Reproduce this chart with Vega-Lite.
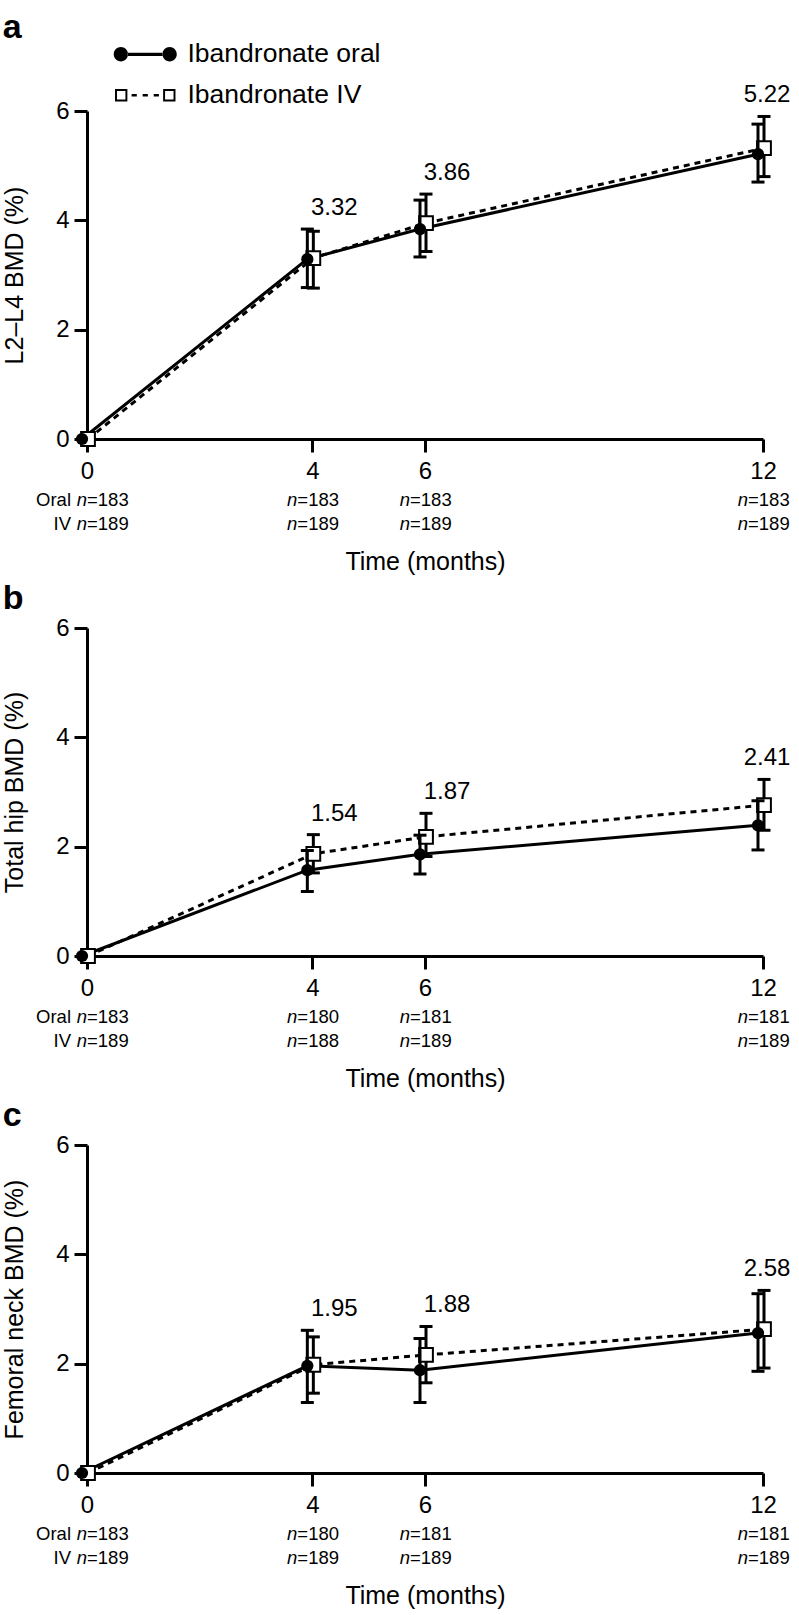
{
  "$schema": "https://vega.github.io/schema/vega-lite/v6.json",
  "background": "white",
  "padding": {"left": 2, "top": 11, "right": 5, "bottom": 5},
  "spacing": 189,
  "bounds": "flush",
  "datasets": {
    "pts": [
      {"panel": "a", "group": "Ibandronate oral", "month": 0, "mean": 0, "lo": 0, "hi": 0, "n": 183},
      {"panel": "a", "group": "Ibandronate oral", "month": 4, "mean": 3.29, "lo": 2.77, "hi": 3.84, "label": 3.32, "n": 183},
      {"panel": "a", "group": "Ibandronate oral", "month": 6, "mean": 3.84, "lo": 3.33, "hi": 4.37, "label": 3.86, "n": 183},
      {"panel": "a", "group": "Ibandronate oral", "month": 12, "mean": 5.21, "lo": 4.70, "hi": 5.76, "label": 5.22, "n": 183},
      {"panel": "a", "group": "Ibandronate IV", "month": 0, "mean": 0, "lo": 0, "hi": 0, "n": 189},
      {"panel": "a", "group": "Ibandronate IV", "month": 4, "mean": 3.31, "lo": 2.76, "hi": 3.80, "n": 189},
      {"panel": "a", "group": "Ibandronate IV", "month": 6, "mean": 3.95, "lo": 3.43, "hi": 4.48, "n": 189},
      {"panel": "a", "group": "Ibandronate IV", "month": 12, "mean": 5.32, "lo": 4.80, "hi": 5.90, "n": 189},
      {"panel": "b", "group": "Ibandronate oral", "month": 0, "mean": 0, "lo": 0, "hi": 0, "n": 183},
      {"panel": "b", "group": "Ibandronate oral", "month": 4, "mean": 1.57, "lo": 1.18, "hi": 1.93, "label": 1.54, "n": 180},
      {"panel": "b", "group": "Ibandronate oral", "month": 6, "mean": 1.86, "lo": 1.50, "hi": 2.21, "label": 1.87, "n": 181},
      {"panel": "b", "group": "Ibandronate oral", "month": 12, "mean": 2.39, "lo": 1.94, "hi": 2.84, "label": 2.41, "n": 181},
      {"panel": "b", "group": "Ibandronate IV", "month": 0, "mean": 0, "lo": 0, "hi": 0, "n": 189},
      {"panel": "b", "group": "Ibandronate IV", "month": 4, "mean": 1.87, "lo": 1.52, "hi": 2.22, "n": 188},
      {"panel": "b", "group": "Ibandronate IV", "month": 6, "mean": 2.18, "lo": 1.82, "hi": 2.61, "n": 189},
      {"panel": "b", "group": "Ibandronate IV", "month": 12, "mean": 2.76, "lo": 2.30, "hi": 3.23, "n": 189},
      {"panel": "c", "group": "Ibandronate oral", "month": 0, "mean": 0, "lo": 0, "hi": 0, "n": 183},
      {"panel": "c", "group": "Ibandronate oral", "month": 4, "mean": 1.96, "lo": 1.29, "hi": 2.61, "label": 1.95, "n": 180},
      {"panel": "c", "group": "Ibandronate oral", "month": 6, "mean": 1.88, "lo": 1.29, "hi": 2.46, "label": 1.88, "n": 181},
      {"panel": "c", "group": "Ibandronate oral", "month": 12, "mean": 2.56, "lo": 1.86, "hi": 3.28, "label": 2.58, "n": 181},
      {"panel": "c", "group": "Ibandronate IV", "month": 0, "mean": 0, "lo": 0, "hi": 0, "n": 189},
      {"panel": "c", "group": "Ibandronate IV", "month": 4, "mean": 1.98, "lo": 1.46, "hi": 2.49, "n": 189},
      {"panel": "c", "group": "Ibandronate IV", "month": 6, "mean": 2.16, "lo": 1.65, "hi": 2.68, "n": 189},
      {"panel": "c", "group": "Ibandronate IV", "month": 12, "mean": 2.63, "lo": 1.92, "hi": 3.34, "n": 189}
    ]
  },
  "vconcat": [
    {
      "width": 676, "height": 328,
      "title": {"text": "a", "anchor": "start", "frame": "bounds", "fontSize": 34, "fontWeight": "bold", "font": "Liberation Sans", "color": "black", "offset": 38},
      "encoding": {
        "x": {"field": "month", "type": "quantitative", "scale": {"domain": [0, 12], "nice": false, "zero": false}, "axis": {"values": [0, 4, 6, 12], "title": "Time (months)"}},
        "y": {"field": "mean", "type": "quantitative", "scale": {"domain": [0, 6], "nice": false}, "axis": {"values": [0, 2, 4, 6], "title": "L2–L4 BMD (%)"}}
      },
      "layer": [
        {"data": {"name": "pts"}, "transform": [{"filter": "false"}],
         "mark": {"type": "point", "filled": true, "opacity": 1, "color": "black"},
         "encoding": {
           "shape": {"field": "group", "type": "nominal", "scale": {"domain": ["Ibandronate oral", "Ibandronate IV"], "range": ["M-4.85,0A1.1,1.1,0,1,0,-2.65,0A1.1,1.1,0,1,0,-4.85,0ZM2.65,0A1.1,1.1,0,1,0,4.85,0A1.1,1.1,0,1,0,2.65,0ZM-2.7,-0.25H2.7V0.25H-2.7Z", "M-4.65,-0.95H-2.75V0.95H-4.65ZM-4.35,-0.65V0.65H-3.05V-0.65ZM2.75,-0.95H4.65V0.95H2.75ZM3.05,-0.65V0.65H4.35V-0.65ZM-2.1,-0.2H-1.3V0.2H-2.1ZM-0.4,-0.2H0.4V0.2H-0.4ZM1.3,-0.2H2.1V0.2H1.3Z"]}, "legend": {"title": null}}
         }},
        {"data": {"name": "pts"}, "transform": [{"filter": "datum.panel=='a' && datum.group=='Ibandronate IV'"}],
         "mark": {"type": "line", "color": "black", "strokeWidth": 3, "strokeDash": [6, 5], "xOffset": 1}},
        {"data": {"name": "pts"}, "transform": [{"filter": "datum.panel=='a' && datum.group=='Ibandronate oral'"}],
         "mark": {"type": "line", "color": "black", "strokeWidth": 3, "xOffset": -5}},
        {"data": {"name": "pts"}, "transform": [{"filter": "datum.panel=='a' && datum.group=='Ibandronate IV' && datum.month>0"}],
         "mark": {"type": "rule", "color": "black", "strokeWidth": 3, "xOffset": 1},
         "encoding": {"y": {"field": "lo", "type": "quantitative"}, "y2": {"field": "hi"}}},
        {"data": {"name": "pts"}, "transform": [{"filter": "datum.panel=='a' && datum.group=='Ibandronate IV' && datum.month>0"}],
         "mark": {"type": "tick", "orient": "horizontal", "color": "black", "size": 13, "thickness": 3, "opacity": 1, "xOffset": 1},
         "encoding": {"y": {"field": "lo", "type": "quantitative"}}},
        {"data": {"name": "pts"}, "transform": [{"filter": "datum.panel=='a' && datum.group=='Ibandronate IV' && datum.month>0"}],
         "mark": {"type": "tick", "orient": "horizontal", "color": "black", "size": 13, "thickness": 3, "opacity": 1, "xOffset": 1},
         "encoding": {"y": {"field": "hi", "type": "quantitative"}}},
        {"data": {"name": "pts"}, "transform": [{"filter": "datum.panel=='a' && datum.group=='Ibandronate IV'"}],
         "mark": {"type": "point", "shape": "square", "size": 190, "fill": "white", "stroke": "black", "strokeWidth": 2, "opacity": 1, "xOffset": 1}},
        {"data": {"name": "pts"}, "transform": [{"filter": "datum.panel=='a' && datum.group=='Ibandronate oral' && datum.month>0"}],
         "mark": {"type": "rule", "color": "black", "strokeWidth": 3, "xOffset": -5},
         "encoding": {"y": {"field": "lo", "type": "quantitative"}, "y2": {"field": "hi"}}},
        {"data": {"name": "pts"}, "transform": [{"filter": "datum.panel=='a' && datum.group=='Ibandronate oral' && datum.month>0"}],
         "mark": {"type": "tick", "orient": "horizontal", "color": "black", "size": 13, "thickness": 3, "opacity": 1, "xOffset": -5},
         "encoding": {"y": {"field": "lo", "type": "quantitative"}}},
        {"data": {"name": "pts"}, "transform": [{"filter": "datum.panel=='a' && datum.group=='Ibandronate oral' && datum.month>0"}],
         "mark": {"type": "tick", "orient": "horizontal", "color": "black", "size": 13, "thickness": 3, "opacity": 1, "xOffset": -5},
         "encoding": {"y": {"field": "hi", "type": "quantitative"}}},
        {"data": {"name": "pts"}, "transform": [{"filter": "datum.panel=='a' && datum.group=='Ibandronate oral'"}],
         "mark": {"type": "point", "shape": "circle", "size": 150, "filled": true, "color": "black", "opacity": 1, "xOffset": -5}},
        {"data": {"name": "pts"}, "transform": [{"filter": "datum.panel=='a' && datum.month>0"}],
         "mark": {"type": "text", "fontSize": 24, "font": "Liberation Sans", "color": "black", "baseline": "middle", "dy": -21, "dx": {"expr": "datum.month == 12 ? 4 : 22"}},
         "encoding": {"y": {"aggregate": "max", "field": "hi", "type": "quantitative"}, "text": {"aggregate": "max", "field": "label", "type": "quantitative", "format": ".2f"}}},
        {"data": {"name": "pts"}, "transform": [{"filter": "datum.panel=='a' && datum.month==0 && datum.group=='Ibandronate oral'"}],
         "mark": {"type": "text", "fontSize": 18.5, "font": "Liberation Sans", "color": "black", "align": "right", "baseline": "middle", "dx": -16, "dy": 61, "text": "Oral"},
         "encoding": {"y": {"datum": 0, "type": "quantitative"}}},
        {"data": {"name": "pts"}, "transform": [{"filter": "datum.panel=='a' && datum.month==0 && datum.group=='Ibandronate IV'"}],
         "mark": {"type": "text", "fontSize": 18.5, "font": "Liberation Sans", "color": "black", "align": "right", "baseline": "middle", "dx": -16, "dy": 85, "text": "IV"},
         "encoding": {"y": {"datum": 0, "type": "quantitative"}}},
        {"data": {"name": "pts"}, "transform": [{"filter": "datum.panel=='a' && datum.group=='Ibandronate oral'"}],
         "mark": {"type": "text", "fontSize": 18.5, "font": "Liberation Sans", "fontStyle": "italic", "color": "black", "align": "right", "baseline": "middle", "text": "n", "dx": {"expr": "datum.month==0 ? 0 : -15"}, "dy": 61},
         "encoding": {"y": {"datum": 0, "type": "quantitative"}}},
        {"data": {"name": "pts"}, "transform": [{"filter": "datum.panel=='a' && datum.group=='Ibandronate IV'"}],
         "mark": {"type": "text", "fontSize": 18.5, "font": "Liberation Sans", "fontStyle": "italic", "color": "black", "align": "right", "baseline": "middle", "text": "n", "dx": {"expr": "datum.month==0 ? 0 : -15"}, "dy": 85},
         "encoding": {"y": {"datum": 0, "type": "quantitative"}}},
        {"data": {"name": "pts"}, "transform": [{"filter": "datum.panel=='a' && datum.group=='Ibandronate oral'"}],
         "mark": {"type": "text", "fontSize": 18.5, "font": "Liberation Sans", "color": "black", "align": "left", "baseline": "middle", "dx": {"expr": "datum.month==0 ? 0 : -15"}, "dy": 61},
         "encoding": {"y": {"datum": 0, "type": "quantitative"}, "text": {"field": "n", "type": "quantitative", "format": "=>4d"}}},
        {"data": {"name": "pts"}, "transform": [{"filter": "datum.panel=='a' && datum.group=='Ibandronate IV'"}],
         "mark": {"type": "text", "fontSize": 18.5, "font": "Liberation Sans", "color": "black", "align": "left", "baseline": "middle", "dx": {"expr": "datum.month==0 ? 0 : -15"}, "dy": 85},
         "encoding": {"y": {"datum": 0, "type": "quantitative"}, "text": {"field": "n", "type": "quantitative", "format": "=>4d"}}}
      ]
    },
    {
      "width": 676, "height": 328,
      "title": {"text": "b", "anchor": "start", "frame": "bounds", "fontSize": 34, "fontWeight": "bold", "font": "Liberation Sans", "color": "black", "offset": 0},
      "encoding": {
        "x": {"field": "month", "type": "quantitative", "scale": {"domain": [0, 12], "nice": false, "zero": false}, "axis": {"values": [0, 4, 6, 12], "title": "Time (months)"}},
        "y": {"field": "mean", "type": "quantitative", "scale": {"domain": [0, 6], "nice": false}, "axis": {"values": [0, 2, 4, 6], "title": "Total hip BMD (%)"}}
      },
      "layer": [
        {"data": {"name": "pts"}, "transform": [{"filter": "datum.panel=='b' && datum.group=='Ibandronate IV'"}],
         "mark": {"type": "line", "color": "black", "strokeWidth": 3, "strokeDash": [6, 5], "xOffset": 1}},
        {"data": {"name": "pts"}, "transform": [{"filter": "datum.panel=='b' && datum.group=='Ibandronate oral'"}],
         "mark": {"type": "line", "color": "black", "strokeWidth": 3, "xOffset": -5}},
        {"data": {"name": "pts"}, "transform": [{"filter": "datum.panel=='b' && datum.group=='Ibandronate IV' && datum.month>0"}],
         "mark": {"type": "rule", "color": "black", "strokeWidth": 3, "xOffset": 1},
         "encoding": {"y": {"field": "lo", "type": "quantitative"}, "y2": {"field": "hi"}}},
        {"data": {"name": "pts"}, "transform": [{"filter": "datum.panel=='b' && datum.group=='Ibandronate IV' && datum.month>0"}],
         "mark": {"type": "tick", "orient": "horizontal", "color": "black", "size": 13, "thickness": 3, "opacity": 1, "xOffset": 1},
         "encoding": {"y": {"field": "lo", "type": "quantitative"}}},
        {"data": {"name": "pts"}, "transform": [{"filter": "datum.panel=='b' && datum.group=='Ibandronate IV' && datum.month>0"}],
         "mark": {"type": "tick", "orient": "horizontal", "color": "black", "size": 13, "thickness": 3, "opacity": 1, "xOffset": 1},
         "encoding": {"y": {"field": "hi", "type": "quantitative"}}},
        {"data": {"name": "pts"}, "transform": [{"filter": "datum.panel=='b' && datum.group=='Ibandronate IV'"}],
         "mark": {"type": "point", "shape": "square", "size": 190, "fill": "white", "stroke": "black", "strokeWidth": 2, "opacity": 1, "xOffset": 1}},
        {"data": {"name": "pts"}, "transform": [{"filter": "datum.panel=='b' && datum.group=='Ibandronate oral' && datum.month>0"}],
         "mark": {"type": "rule", "color": "black", "strokeWidth": 3, "xOffset": -5},
         "encoding": {"y": {"field": "lo", "type": "quantitative"}, "y2": {"field": "hi"}}},
        {"data": {"name": "pts"}, "transform": [{"filter": "datum.panel=='b' && datum.group=='Ibandronate oral' && datum.month>0"}],
         "mark": {"type": "tick", "orient": "horizontal", "color": "black", "size": 13, "thickness": 3, "opacity": 1, "xOffset": -5},
         "encoding": {"y": {"field": "lo", "type": "quantitative"}}},
        {"data": {"name": "pts"}, "transform": [{"filter": "datum.panel=='b' && datum.group=='Ibandronate oral' && datum.month>0"}],
         "mark": {"type": "tick", "orient": "horizontal", "color": "black", "size": 13, "thickness": 3, "opacity": 1, "xOffset": -5},
         "encoding": {"y": {"field": "hi", "type": "quantitative"}}},
        {"data": {"name": "pts"}, "transform": [{"filter": "datum.panel=='b' && datum.group=='Ibandronate oral'"}],
         "mark": {"type": "point", "shape": "circle", "size": 150, "filled": true, "color": "black", "opacity": 1, "xOffset": -5}},
        {"data": {"name": "pts"}, "transform": [{"filter": "datum.panel=='b' && datum.month>0"}],
         "mark": {"type": "text", "fontSize": 24, "font": "Liberation Sans", "color": "black", "baseline": "middle", "dy": -21, "dx": {"expr": "datum.month == 12 ? 4 : 22"}},
         "encoding": {"y": {"aggregate": "max", "field": "hi", "type": "quantitative"}, "text": {"aggregate": "max", "field": "label", "type": "quantitative", "format": ".2f"}}},
        {"data": {"name": "pts"}, "transform": [{"filter": "datum.panel=='b' && datum.month==0 && datum.group=='Ibandronate oral'"}],
         "mark": {"type": "text", "fontSize": 18.5, "font": "Liberation Sans", "color": "black", "align": "right", "baseline": "middle", "dx": -16, "dy": 61, "text": "Oral"},
         "encoding": {"y": {"datum": 0, "type": "quantitative"}}},
        {"data": {"name": "pts"}, "transform": [{"filter": "datum.panel=='b' && datum.month==0 && datum.group=='Ibandronate IV'"}],
         "mark": {"type": "text", "fontSize": 18.5, "font": "Liberation Sans", "color": "black", "align": "right", "baseline": "middle", "dx": -16, "dy": 85, "text": "IV"},
         "encoding": {"y": {"datum": 0, "type": "quantitative"}}},
        {"data": {"name": "pts"}, "transform": [{"filter": "datum.panel=='b' && datum.group=='Ibandronate oral'"}],
         "mark": {"type": "text", "fontSize": 18.5, "font": "Liberation Sans", "fontStyle": "italic", "color": "black", "align": "right", "baseline": "middle", "text": "n", "dx": {"expr": "datum.month==0 ? 0 : -15"}, "dy": 61},
         "encoding": {"y": {"datum": 0, "type": "quantitative"}}},
        {"data": {"name": "pts"}, "transform": [{"filter": "datum.panel=='b' && datum.group=='Ibandronate IV'"}],
         "mark": {"type": "text", "fontSize": 18.5, "font": "Liberation Sans", "fontStyle": "italic", "color": "black", "align": "right", "baseline": "middle", "text": "n", "dx": {"expr": "datum.month==0 ? 0 : -15"}, "dy": 85},
         "encoding": {"y": {"datum": 0, "type": "quantitative"}}},
        {"data": {"name": "pts"}, "transform": [{"filter": "datum.panel=='b' && datum.group=='Ibandronate oral'"}],
         "mark": {"type": "text", "fontSize": 18.5, "font": "Liberation Sans", "color": "black", "align": "left", "baseline": "middle", "dx": {"expr": "datum.month==0 ? 0 : -15"}, "dy": 61},
         "encoding": {"y": {"datum": 0, "type": "quantitative"}, "text": {"field": "n", "type": "quantitative", "format": "=>4d"}}},
        {"data": {"name": "pts"}, "transform": [{"filter": "datum.panel=='b' && datum.group=='Ibandronate IV'"}],
         "mark": {"type": "text", "fontSize": 18.5, "font": "Liberation Sans", "color": "black", "align": "left", "baseline": "middle", "dx": {"expr": "datum.month==0 ? 0 : -15"}, "dy": 85},
         "encoding": {"y": {"datum": 0, "type": "quantitative"}, "text": {"field": "n", "type": "quantitative", "format": "=>4d"}}}
      ]
    },
    {
      "width": 676, "height": 328,
      "title": {"text": "c", "anchor": "start", "frame": "bounds", "fontSize": 34, "fontWeight": "bold", "font": "Liberation Sans", "color": "black", "offset": 0},
      "encoding": {
        "x": {"field": "month", "type": "quantitative", "scale": {"domain": [0, 12], "nice": false, "zero": false}, "axis": {"values": [0, 4, 6, 12], "title": "Time (months)"}},
        "y": {"field": "mean", "type": "quantitative", "scale": {"domain": [0, 6], "nice": false}, "axis": {"values": [0, 2, 4, 6], "title": "Femoral neck BMD (%)"}}
      },
      "layer": [
        {"data": {"name": "pts"}, "transform": [{"filter": "datum.panel=='c' && datum.group=='Ibandronate IV'"}],
         "mark": {"type": "line", "color": "black", "strokeWidth": 3, "strokeDash": [6, 5], "xOffset": 1}},
        {"data": {"name": "pts"}, "transform": [{"filter": "datum.panel=='c' && datum.group=='Ibandronate oral'"}],
         "mark": {"type": "line", "color": "black", "strokeWidth": 3, "xOffset": -5}},
        {"data": {"name": "pts"}, "transform": [{"filter": "datum.panel=='c' && datum.group=='Ibandronate IV' && datum.month>0"}],
         "mark": {"type": "rule", "color": "black", "strokeWidth": 3, "xOffset": 1},
         "encoding": {"y": {"field": "lo", "type": "quantitative"}, "y2": {"field": "hi"}}},
        {"data": {"name": "pts"}, "transform": [{"filter": "datum.panel=='c' && datum.group=='Ibandronate IV' && datum.month>0"}],
         "mark": {"type": "tick", "orient": "horizontal", "color": "black", "size": 13, "thickness": 3, "opacity": 1, "xOffset": 1},
         "encoding": {"y": {"field": "lo", "type": "quantitative"}}},
        {"data": {"name": "pts"}, "transform": [{"filter": "datum.panel=='c' && datum.group=='Ibandronate IV' && datum.month>0"}],
         "mark": {"type": "tick", "orient": "horizontal", "color": "black", "size": 13, "thickness": 3, "opacity": 1, "xOffset": 1},
         "encoding": {"y": {"field": "hi", "type": "quantitative"}}},
        {"data": {"name": "pts"}, "transform": [{"filter": "datum.panel=='c' && datum.group=='Ibandronate IV'"}],
         "mark": {"type": "point", "shape": "square", "size": 190, "fill": "white", "stroke": "black", "strokeWidth": 2, "opacity": 1, "xOffset": 1}},
        {"data": {"name": "pts"}, "transform": [{"filter": "datum.panel=='c' && datum.group=='Ibandronate oral' && datum.month>0"}],
         "mark": {"type": "rule", "color": "black", "strokeWidth": 3, "xOffset": -5},
         "encoding": {"y": {"field": "lo", "type": "quantitative"}, "y2": {"field": "hi"}}},
        {"data": {"name": "pts"}, "transform": [{"filter": "datum.panel=='c' && datum.group=='Ibandronate oral' && datum.month>0"}],
         "mark": {"type": "tick", "orient": "horizontal", "color": "black", "size": 13, "thickness": 3, "opacity": 1, "xOffset": -5},
         "encoding": {"y": {"field": "lo", "type": "quantitative"}}},
        {"data": {"name": "pts"}, "transform": [{"filter": "datum.panel=='c' && datum.group=='Ibandronate oral' && datum.month>0"}],
         "mark": {"type": "tick", "orient": "horizontal", "color": "black", "size": 13, "thickness": 3, "opacity": 1, "xOffset": -5},
         "encoding": {"y": {"field": "hi", "type": "quantitative"}}},
        {"data": {"name": "pts"}, "transform": [{"filter": "datum.panel=='c' && datum.group=='Ibandronate oral'"}],
         "mark": {"type": "point", "shape": "circle", "size": 150, "filled": true, "color": "black", "opacity": 1, "xOffset": -5}},
        {"data": {"name": "pts"}, "transform": [{"filter": "datum.panel=='c' && datum.month>0"}],
         "mark": {"type": "text", "fontSize": 24, "font": "Liberation Sans", "color": "black", "baseline": "middle", "dy": -21, "dx": {"expr": "datum.month == 12 ? 4 : 22"}},
         "encoding": {"y": {"aggregate": "max", "field": "hi", "type": "quantitative"}, "text": {"aggregate": "max", "field": "label", "type": "quantitative", "format": ".2f"}}},
        {"data": {"name": "pts"}, "transform": [{"filter": "datum.panel=='c' && datum.month==0 && datum.group=='Ibandronate oral'"}],
         "mark": {"type": "text", "fontSize": 18.5, "font": "Liberation Sans", "color": "black", "align": "right", "baseline": "middle", "dx": -16, "dy": 61, "text": "Oral"},
         "encoding": {"y": {"datum": 0, "type": "quantitative"}}},
        {"data": {"name": "pts"}, "transform": [{"filter": "datum.panel=='c' && datum.month==0 && datum.group=='Ibandronate IV'"}],
         "mark": {"type": "text", "fontSize": 18.5, "font": "Liberation Sans", "color": "black", "align": "right", "baseline": "middle", "dx": -16, "dy": 85, "text": "IV"},
         "encoding": {"y": {"datum": 0, "type": "quantitative"}}},
        {"data": {"name": "pts"}, "transform": [{"filter": "datum.panel=='c' && datum.group=='Ibandronate oral'"}],
         "mark": {"type": "text", "fontSize": 18.5, "font": "Liberation Sans", "fontStyle": "italic", "color": "black", "align": "right", "baseline": "middle", "text": "n", "dx": {"expr": "datum.month==0 ? 0 : -15"}, "dy": 61},
         "encoding": {"y": {"datum": 0, "type": "quantitative"}}},
        {"data": {"name": "pts"}, "transform": [{"filter": "datum.panel=='c' && datum.group=='Ibandronate IV'"}],
         "mark": {"type": "text", "fontSize": 18.5, "font": "Liberation Sans", "fontStyle": "italic", "color": "black", "align": "right", "baseline": "middle", "text": "n", "dx": {"expr": "datum.month==0 ? 0 : -15"}, "dy": 85},
         "encoding": {"y": {"datum": 0, "type": "quantitative"}}},
        {"data": {"name": "pts"}, "transform": [{"filter": "datum.panel=='c' && datum.group=='Ibandronate oral'"}],
         "mark": {"type": "text", "fontSize": 18.5, "font": "Liberation Sans", "color": "black", "align": "left", "baseline": "middle", "dx": {"expr": "datum.month==0 ? 0 : -15"}, "dy": 61},
         "encoding": {"y": {"datum": 0, "type": "quantitative"}, "text": {"field": "n", "type": "quantitative", "format": "=>4d"}}},
        {"data": {"name": "pts"}, "transform": [{"filter": "datum.panel=='c' && datum.group=='Ibandronate IV'"}],
         "mark": {"type": "text", "fontSize": 18.5, "font": "Liberation Sans", "color": "black", "align": "left", "baseline": "middle", "dx": {"expr": "datum.month==0 ? 0 : -15"}, "dy": 85},
         "encoding": {"y": {"datum": 0, "type": "quantitative"}, "text": {"field": "n", "type": "quantitative", "format": "=>4d"}}}
      ]
    }
  ],
  "config": {
    "view": {"stroke": null},
    "font": "Liberation Sans",
    "axis": {"domainColor": "black", "domainWidth": 3, "tickColor": "black", "tickWidth": 3, "tickSize": 13, "labelFont": "Liberation Sans", "labelFontSize": 24, "labelColor": "black", "labelFlush": false, "titleFont": "Liberation Sans", "titleFontSize": 25, "titleFontWeight": "normal", "titleColor": "black", "grid": false},
    "axisX": {"labelPadding": 7, "titlePadding": 66},
    "axisY": {"labelPadding": 5, "titlePadding": 28},
    "legend": {"orient": "none", "legendX": 45, "legendY": -70, "labelFont": "Liberation Sans", "labelFontSize": 26.5, "labelColor": "black", "labelLimit": 0, "symbolSize": 169, "labelOffset": 29, "rowPadding": 14, "padding": 0, "symbolStrokeWidth": 0, "symbolFillColor": "black"}
  }
}
